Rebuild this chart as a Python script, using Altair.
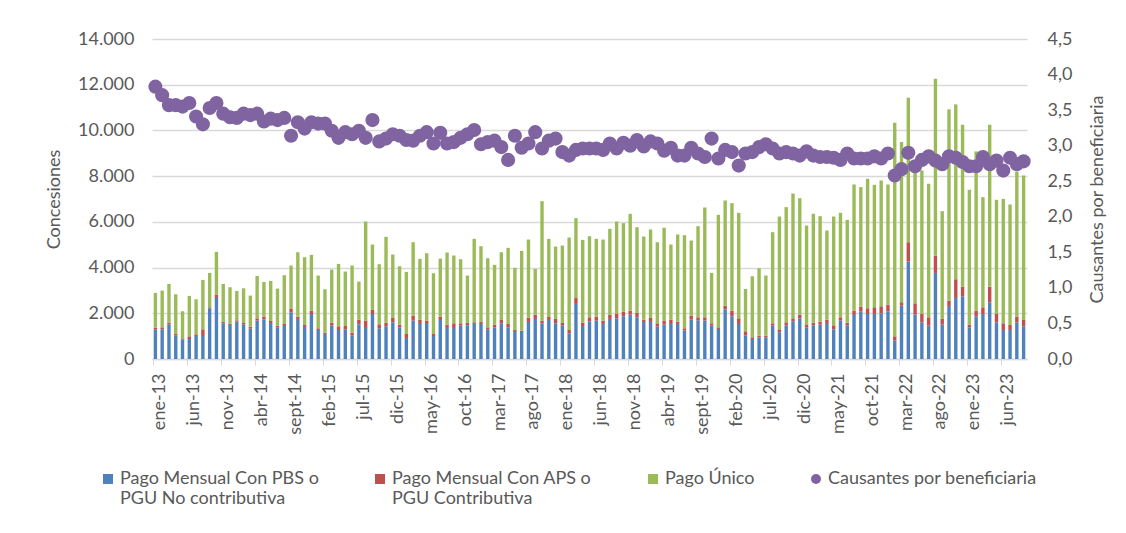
import altair as alt
import pandas as pd

MESES = ["ene", "feb", "mar", "abr", "may", "jun", "jul", "ago", "sept", "oct", "nov", "dic"]
meses = [f"{MESES[m]}-{y % 100:02d}" for y in range(2013, 2024) for m in range(12)][:129]

S1 = "Pago Mensual Con PBS o PGU No contributiva"
S2 = "Pago Mensual Con APS o PGU Contributiva"
S3 = "Pago Único"
S4 = "Causantes por beneficiaria"
series = [S1, S2, S3, S4]
colores = ["#4F81BD", "#C0504D", "#9BBB59", "#8064A2"]

pbs = [1285, 1299, 1518, 1022, 861, 876, 1007, 1007, 2219, 2672,
       1562, 1489, 1635, 1518, 1329, 1679, 1723, 1577, 1372, 1445,
       2044, 1752, 1402, 1971, 1270, 1095, 1460, 1270, 1285, 1037,
       1518, 1358, 1971, 1343, 1431, 1606, 1387, 920, 1679, 1533,
       1533, 1007, 1708, 1358, 1358, 1460, 1460, 1533, 1533, 1299,
       1387, 1562, 1387, 1183, 1183, 1621, 1752, 1562, 1708, 1562,
       1460, 1124, 2409, 1445, 1650, 1679, 1533, 1752, 1781, 1869,
       1942, 1825, 1621, 1621, 1416, 1504, 1533, 1533, 1241, 1723,
       1679, 1679, 1460, 1314, 2175, 1854, 1533, 1022, 876, 949,
       949, 1460, 1168, 1460, 1650, 1781, 1387, 1475, 1504, 1533,
       1299, 1679, 1460, 1927, 2073, 1971, 1971, 2000, 2088, 803,
       2336, 4263, 1942, 1606, 1460, 3767, 1504, 2321, 2672, 2745,
       1372, 1869, 1971, 2482, 1606, 1270, 1270, 1606, 1431]

aps = [88, 88, 73, 73, 44, 117, 73, 292, 44, 146,
       73, 58, 58, 58, 88, 102, 131, 88, 88, 88,
       146, 102, 88, 146, 73, 58, 131, 161, 161, 117,
       204, 321, 175, 175, 161, 190, 117, 175, 219, 190,
       146, 88, 146, 146, 204, 102, 117, 73, 102, 88,
       117, 146, 146, 88, 58, 190, 190, 117, 131, 190,
       117, 146, 263, 146, 175, 175, 146, 190, 190, 204,
       175, 190, 102, 175, 146, 175, 190, 102, 102, 175,
       146, 146, 102, 73, 161, 263, 248, 190, 73, 73,
       73, 102, 131, 146, 131, 161, 102, 117, 131, 190,
       175, 146, 131, 190, 219, 248, 292, 307, 292, 190,
       146, 847, 496, 365, 365, 759, 248, 234, 818, 423,
       131, 248, 292, 686, 365, 292, 219, 248, 277]

unico = [1518, 1606, 1694, 1737, 1183, 1767, 1533, 2161, 1504, 1869,
         1650, 1591, 1285, 1518, 1358, 1854, 1518, 1752, 1621, 2132,
         1898, 2818, 2964, 2438, 2307, 1898, 2321, 2730, 2380, 2935,
         1664, 4336, 2862, 2628, 3753, 2774, 2555, 2716, 3212, 2657,
         2949, 2657, 2540, 3154, 2964, 2803, 2073, 3650, 3300, 3022,
         2613, 2964, 3329, 2716, 3489, 3416, 2000, 5227, 3416, 3168,
         3387, 4044, 3489, 3621, 3548, 3402, 3548, 3752, 4044, 3869,
         4234, 3752, 3635, 3869, 3548, 4059, 3285, 3811, 4073, 3285,
         3986, 4803, 2205, 4920, 4599, 4701, 4614, 1854, 2672, 2949,
         2628, 3986, 4935, 5037, 5460, 5095, 4351, 4760, 4613, 3898,
         4760, 4570, 4496, 5519, 5227, 5665, 5358, 5504, 5256, 9344,
         7008, 6322, 5962, 6278, 5840, 7738, 4716, 8366, 7650, 7081,
         5898, 6964, 4818, 7081, 4993, 5446, 5271, 6346, 6322]

causantes = [3.83, 3.71, 3.57, 3.57, 3.55, 3.60, 3.41, 3.30, 3.53, 3.60,
             3.45, 3.40, 3.39, 3.45, 3.43, 3.45, 3.34, 3.38, 3.36, 3.39,
             3.14, 3.33, 3.24, 3.33, 3.31, 3.31, 3.21, 3.11, 3.19, 3.16,
             3.21, 3.11, 3.36, 3.06, 3.10, 3.16, 3.14, 3.08, 3.07, 3.14,
             3.19, 3.03, 3.18, 3.03, 3.05, 3.11, 3.16, 3.22, 3.02, 3.05,
             3.07, 2.98, 2.80, 3.14, 2.97, 3.03, 3.19, 2.96, 3.07, 3.10,
             2.91, 2.86, 2.94, 2.96, 2.96, 2.96, 2.94, 3.03, 2.96, 3.04,
             3.00, 3.08, 2.99, 3.06, 3.03, 2.93, 2.97, 2.86, 2.86, 2.97,
             2.89, 2.84, 3.10, 2.82, 2.94, 2.91, 2.72, 2.89, 2.91, 2.98,
             3.02, 2.96, 2.89, 2.91, 2.89, 2.86, 2.92, 2.86, 2.84, 2.84,
             2.83, 2.80, 2.89, 2.82, 2.82, 2.82, 2.85, 2.82, 2.89, 2.58,
             2.67, 2.90, 2.71, 2.80, 2.85, 2.79, 2.74, 2.85, 2.83, 2.77,
             2.71, 2.71, 2.84, 2.74, 2.79, 2.65, 2.83, 2.74, 2.78]

rows = []
for i, m in enumerate(meses):
    for orden, (s, vals) in enumerate([(S1, pbs), (S2, aps), (S3, unico)]):
        rows.append({"mes": m, "serie": s, "valor": vals[i], "orden": orden})
df_bar = pd.DataFrame(rows)
df_pt = pd.DataFrame({"mes": meses, "serie": S4, "valor": causantes})

FONT = "Lato"
GRIS = "#595959"
LINEA = "#D9D9D9"

x_enc = alt.X(
    "mes:N", sort=meses, title=None,
    scale=alt.Scale(paddingInner=0.5, paddingOuter=0.25),
    axis=alt.Axis(values=meses[::5], labelAngle=270, bandPosition=0, labelOffset=5,
                  tickSize=6, tickColor=LINEA, domainColor=LINEA, domainWidth=1.5,
                  labelPadding=8, labelFont=FONT, labelFontSize=18, labelColor=GRIS,
                  grid=False),
)

legend_expr = ("datum.label == '%s' ? ['Pago Mensual Con PBS o', 'PGU No contributiva'] : "
               "datum.label == '%s' ? ['Pago Mensual Con APS o', 'PGU Contributiva'] : "
               "[datum.label, ' ']") % (S1, S2)

leyenda = alt.Legend(title=None, orient="none", legendX=-53, legendY=431,
                     direction="horizontal", columns=4, columnPadding=52,
                     labelExpr=legend_expr, labelFont=FONT, labelFontSize=18,
                     labelColor=GRIS, symbolSize=100, labelOffset=3, labelLimit=400,
                     symbolStrokeWidth=0)

color_scale = alt.Scale(domain=series, range=colores)

bars = alt.Chart(df_bar).mark_bar().encode(
    x=x_enc,
    y=alt.Y("valor:Q", stack="zero", title="Concesiones",
            scale=alt.Scale(domain=[0, 14000]),
            axis=alt.Axis(orient="left", values=list(range(0, 14001, 2000)),
                          labelExpr="replace(format(datum.value, ',d'), ',', '.')",
                          domain=False, ticks=False, labelPadding=18,
                          gridColor=LINEA, gridWidth=1.5,
                          labelFont=FONT, labelFontSize=18, labelColor=GRIS,
                          titleFont=FONT, titleFontSize=18, titleColor=GRIS,
                          titleFontWeight="normal", titlePadding=14)),
    color=alt.Color("serie:N", scale=color_scale, legend=leyenda),
    order=alt.Order("orden:Q"),
)

points = alt.Chart(df_pt).mark_point(filled=True, size=200, opacity=1).encode(
    x=x_enc,
    y=alt.Y("valor:Q", title="Causantes por beneficiaria",
            scale=alt.Scale(domain=[0, 4.5]),
            axis=alt.Axis(orient="right", values=[i * 0.5 for i in range(10)],
                          labelExpr="replace(format(datum.value, '.1f'), '.', ',')",
                          domain=False, ticks=False, grid=False, labelPadding=20,
                          labelFont=FONT, labelFontSize=18, labelColor=GRIS,
                          titleFont=FONT, titleFontSize=18, titleColor=GRIS,
                          titleFontWeight="normal", titleAngle=270,
                          titleX=70, titleY=160, titleAlign="center",
                          titleBaseline="middle")),
    color=alt.Color("serie:N", scale=color_scale, legend=leyenda),
    shape=alt.Shape("serie:N", scale=alt.Scale(domain=series,
                                               range=["square", "square", "square", "circle"]),
                    legend=leyenda),
)

chart = alt.layer(bars, points).resolve_scale(y="independent").properties(
    width=875, height=320,
    autosize=alt.AutoSizeParams(type="none"),
    padding={"left": 144, "top": 31, "right": 91, "bottom": 166},
    background="white",
).configure_view(stroke=None)

chart.save("out.html", embed_options={"renderer": "svg", "actions": False})
